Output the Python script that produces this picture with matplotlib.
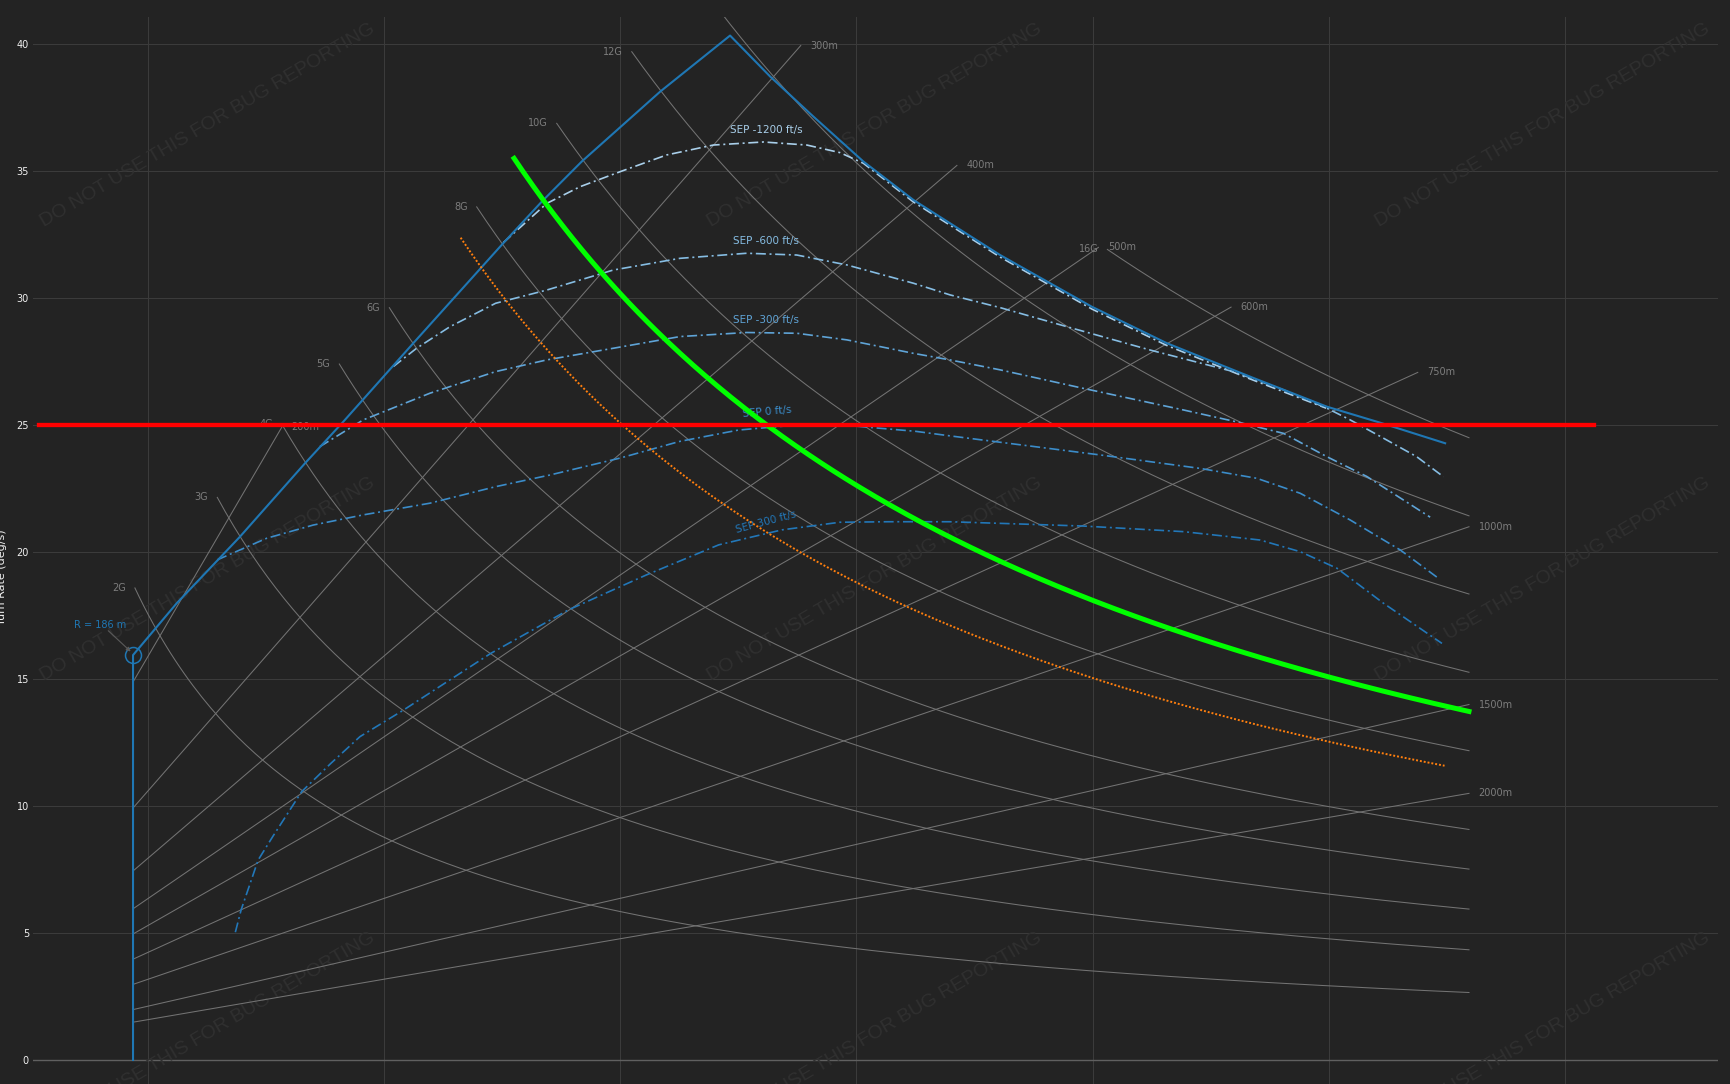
import numpy as np
import matplotlib.pyplot as plt

# ---- data (speed in km/h, turn rate in deg/s) ----

# reference isolines of the E-M diagram: load factor and turn radius
g_levels = [2, 3, 4, 5, 6, 8, 10, 12, 14, 16]
g_start_kmh = [188.6, 258.4, 313.0, 361.8, 404.2, 478.2, 546.0, 609.6, 660.0, 1012.6]
r_levels = [200, 300, 400, 500, 600, 750, 1000, 1500, 2000]
r_end_kmh = [313.0, 752.8, 885.1, 1005.0, 1117.4, 1275.6, 1319.0, 1319.0, 1319.0]
iso_start_kmh = 187.0
iso_end_kmh = 1319.0

# flight envelope
env_v = [187, 187, 224.0, 277.6, 332.7, 365.2, 424.5, 499.4, 533.3, 567.2, 633.6,
         692.9, 726.8, 763.5, 805.9, 848.2, 879.3, 921.7, 999.2, 1062.9, 1133.6,
         1198.6, 1243.7, 1298.8]
env_w = [0, 15.94, 17.98, 20.6, 23.49, 25.13, 28.22, 32.09, 33.79, 35.37, 38.12,
         40.33, 38.72, 37.14, 35.37, 33.86, 32.94, 31.69, 29.66, 28.22, 26.90,
         25.72, 25.09, 24.28]
corner_v, corner_w = 187, 15.94

# specific excess power contours
sep_m1200_v = [500.8, 537.5, 565.8, 599.7, 639.2, 678.7, 721.1, 757.9, 786.1, 805.9,
               848.2, 921.7, 999.2, 1062.9, 1133.6, 1198.0]
sep_m1200_w = [32.18, 33.72, 34.38, 34.97, 35.63, 36.02, 36.14, 36.02, 35.72, 35.30,
               33.78, 31.61, 29.57, 28.13, 26.81, 25.66]
sep_m600_v = [407.6, 427.3, 455.6, 494.2, 537.5, 594.0, 650.5, 707.0, 749.4, 791.8,
              848.2, 879.3, 921.7, 978.2, 1048.8, 1119.4, 1161.8, 1198.6, 1218.3,
              1246.5, 1274.7, 1297.4]
sep_m600_w = [27.3, 28.02, 28.87, 29.79, 30.31, 31.10, 31.56, 31.76, 31.69, 31.30,
              30.58, 30.12, 29.62, 28.87, 27.95, 27.10, 26.38, 25.66, 25.2,
              24.48, 23.75, 22.96]
sep_m300_v = [345.4, 382.1, 438.6, 494.2, 537.5, 594.0, 650.5, 707.0, 749.4, 791.8,
              848.2, 879.3, 921.7, 992.3, 1077.1, 1125.1, 1161.8, 1198.6, 1232.5, 1286.1]
sep_m300_w = [24.15, 25.2, 26.25, 27.1, 27.56, 28.02, 28.48, 28.64, 28.61, 28.35,
              27.82, 27.56, 27.17, 26.44, 25.59, 25.09, 24.67, 23.75, 22.97, 21.37]
sep_0_v = [258.4, 300.3, 339.7, 382.1, 438.6, 494.2, 540.3, 600.0, 650.0, 700.0,
           750.0, 800.0, 850.0, 879.3, 1006.4, 1091.2, 1139.2, 1176.0, 1218.3,
           1260.7, 1293.2]
sep_0_w = [19.69, 20.54, 21.06, 21.46, 21.92, 22.57, 23.03, 23.7, 24.35, 24.8,
           25.0, 24.95, 24.75, 24.57, 23.82, 23.29, 22.90, 22.31, 21.26,
           20.08, 18.96]
sep_300_v = [273.7, 278.6, 293.0, 305.3, 330.0, 354.7, 379.3, 416.3, 490.2, 556.0,
             621.7, 683.3, 736.8, 786.0, 827.1, 879.3, 992.3, 1077.1, 1142.0, 1176.0,
             1207.1, 1246.6, 1296.1]
sep_300_w = [5.03, 5.91, 7.87, 8.79, 10.57, 11.68, 12.73, 13.78, 16.01, 17.72,
             19.09, 20.28, 20.87, 21.17, 21.19, 21.19, 21.02, 20.80, 20.47, 20.01,
             19.36, 17.98, 16.40]

sep_names = ['SEP -1200 ft/s', 'SEP -600 ft/s', 'SEP -300 ft/s', 'SEP 0 ft/s', 'SEP 300 ft/s']
sep_series = [(sep_m1200_v, sep_m1200_w), (sep_m600_v, sep_m600_w),
              (sep_m300_v, sep_m300_w), (sep_0_v, sep_0_w), (sep_300_v, sep_300_w)]
sep_label_v = [723.4, 723.4, 723.4, 723.9, 723.4]
sep_label_w = [36.61, 32.24, 29.13, 25.53, 21.19]
sep_label_rot = [0, 0, 0, 5, 15]
sep_colors = ['#a9cfea', '#86bde3', '#5fa4d7', '#3b8cc9', '#2277b8']

# user overlays: two load-factor lines and a target turn rate
green_g, green_v = 9.0, (509.9, 1319.0)
orange_g, orange_v = 7.5, (464.6, 1298.3)
target_rate, target_v = 25.0, (107.0, 1425.0)

# ---- style ----
BG = '#232323'
GRID = '#3b3b3b'
ISO = '#737373'
ISO_TXT = '#7d7d7d'
BLUE = '#1f77b4'

fig = plt.figure(figsize=(17.3, 10.84), dpi=100, facecolor=BG)
ax = fig.add_axes([33.3 / 1730, 0, (1718 - 33.3) / 1730, (1084 - 16.5) / 1084])
ax.set_facecolor(BG)
ax.set_xlim(102.5, 1530)
ax.set_ylim(-0.945, 41.08)
for s in ax.spines.values():
    s.set_visible(False)
ax.set_xticks(np.arange(200, 1401, 200))
ax.set_yticks(np.arange(0, 41, 5))
ax.set_axisbelow(True)
ax.grid(True, color=GRID, lw=0.75)
ax.tick_params(axis='x', length=0, labelbottom=False)
ax.tick_params(axis='y', length=0, pad=3.1, labelsize=7, labelcolor='#f0f0f0')
ax.axhline(0, color='#606060', lw=1.0, zorder=0.6)

fig.text(7.5 / 1730, 1 - 577 / 1084, 'Turn Rate (deg/s)', rotation=90, ha='right',
         va='center', color='#f0f0f0', fontsize=8)

# watermark
for cy in [125, 579.6, 1034.2]:
    for cx in [207.5, 875, 1542.5]:
        ax.text(cx / 1730, 1 - cy / 1084, 'DO NOT USE THIS FOR BUG REPORTING',
                transform=fig.transFigure, rotation=30.5, rotation_mode='anchor',
                ha='center', va='center', fontsize=14, family='Liberation Sans',
                color='#303030', zorder=0.7)

# load factor isolines
for n, v0 in zip(g_levels, g_start_kmh):
    v = np.linspace(v0, iso_end_kmh, 300)
    w = np.degrees(9.81 * np.sqrt(n ** 2 - 1) / (v / 3.6))
    ax.plot(v, w, color=ISO, lw=0.75, zorder=1)
    ax.annotate(f'{n}G', (v[0], w[0]), xytext=(-6.5, 0), textcoords='offset points',
                ha='right', va='center', fontsize=7, color=ISO_TXT, annotation_clip=True)

# turn radius isolines
for r, v1 in zip(r_levels, r_end_kmh):
    v = np.array([iso_start_kmh, v1])
    w = np.degrees(v / 3.6 / r)
    ax.plot(v, w, color=ISO, lw=0.75, zorder=1)
    ax.annotate(f'{r}m', (v[1], w[1]), xytext=(7, 0), textcoords='offset points',
                ha='left', va='center', fontsize=7, color=ISO_TXT)

# SEP contours
for (v, w), name, lv, lw_, rot, c in zip(sep_series, sep_names, sep_label_v,
                                         sep_label_w, sep_label_rot, sep_colors):
    ax.plot(v, w, color=c, lw=1.2, ls=(0, (6, 2.2, 1.2, 2.2)), zorder=2)
    ax.text(lv, lw_, name, color=c, fontsize=7.5, ha='center', va='center',
            rotation=rot, rotation_mode='anchor', zorder=2)

# envelope
ax.plot(env_v, env_w, color=BLUE, lw=1.5, zorder=3)
ax.plot([corner_v], [corner_w], 'o', ms=11.5, mfc='none', mec=BLUE, mew=1.1, zorder=3)
ax.text(159, 17.14, 'R = 186 m', color=BLUE, fontsize=7, ha='center', va='center')
ax.annotate('', xy=(185.0, 16.08), xytext=(166.0, 16.9),
            arrowprops=dict(arrowstyle='-|>', color='#5a5a5a', lw=0.8,
                            mutation_scale=6, shrinkA=0, shrinkB=0))

# overlays
v = np.linspace(orange_v[0], orange_v[1], 300)
ax.plot(v, np.degrees(9.81 * np.sqrt(orange_g ** 2 - 1) / (v / 3.6)), color='#ff7f0e',
        lw=1.4, ls=(0, (1, 1)), zorder=4)
v = np.linspace(green_v[0], green_v[1], 300)
ax.plot(v, np.degrees(9.81 * np.sqrt(green_g ** 2 - 1) / (v / 3.6)), color='#00ff00',
        lw=3.6, zorder=5)
ax.plot(target_v, [target_rate, target_rate], color='#ff0000', lw=3.1, zorder=6)

fig.savefig('out.png', dpi=100, facecolor=BG)
